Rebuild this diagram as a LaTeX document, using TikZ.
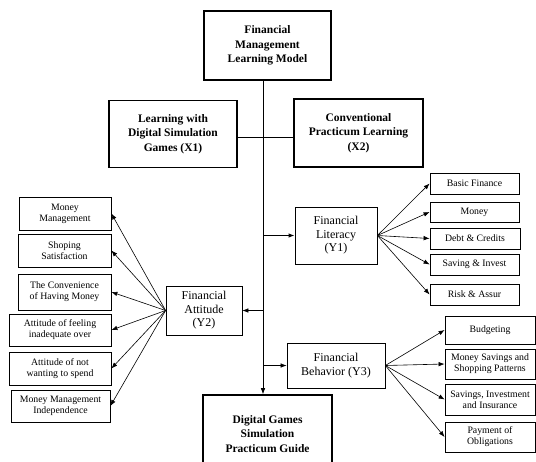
\documentclass[tikz,border=0pt]{standalone}
\usepackage{fontspec}
\setmainfont{Liberation Serif}
\usetikzlibrary{arrows.meta}

\begin{document}
\begin{tikzpicture}[x=1pt, y=-1pt,
    bigbox/.style={draw, line width=1.6pt, align=center, inner sep=0pt,
        font=\fontsize{11.5}{14.5}\selectfont\bfseries},
    midbox/.style={draw, line width=0.8pt, align=center, inner sep=0pt,
        font=\fontsize{12}{13.5}\selectfont},
    smallbox/.style={draw, line width=0.8pt, align=center, inner sep=0pt,
        font=\fontsize{9.8}{11}\selectfont},
    fan/.style={-{Latex[length=6pt,width=4.5pt]}, line width=0.6pt}]
    \useasboundingbox (0,0) rectangle (536,461);
    \clip (0,0) rectangle (536,461);

    % Main boxes
    \node[bigbox, minimum width=127pt, minimum height=69pt] (model) at (267.5,45.5) {Financial\\Management\\Learning Model};
    \node[bigbox, minimum width=128pt, minimum height=67pt] (x1) at (173,134) {Learning with\\Digital Simulation\\Games (X1)};
    \node[bigbox, minimum width=129pt, minimum height=68pt] (x2) at (358.5,133) {Conventional\\Practicum Learning\\(X2)};
    \node[bigbox, minimum width=129pt, minimum height=78pt] (guide) at (267.5,434) {Digital Games\\Simulation\\Practicum Guide};

    % Variables
    \node[midbox, minimum width=82pt, minimum height=57pt] (lit) at (336,235.5) {Financial\\Literacy\\(Y1)};
    \node[midbox, minimum width=76pt, minimum height=49pt] (att) at (204,310.5) {Financial\\Attitude\\(Y2)};
    \node[midbox, minimum width=98pt, minimum height=45pt] (beh) at (336,365.5) {Financial\\Behavior (Y3)};

    % Trunk
    \coordinate (trunk) at ([xshift=-4.5pt]model.south);
    \draw[line width=0.6pt] ([yshift=-3pt]x1.east) -- ([yshift=-3pt]x1.east -| x2.west);
    \draw[fan] (trunk) -- (trunk |- guide.north);
    \draw[-{Latex[length=6pt,width=4.5pt]}, line width=1.2pt] (trunk |- lit.west) -- (lit.west);
    \draw[fan] (trunk |- att.east) -- (att.east);
    \draw[fan] (trunk |- beh.west) -- (beh.west);

    % Literacy indicators
    \node[smallbox, minimum width=89pt, minimum height=21pt] (basic) at (474.5,183.5) {Basic Finance};
    \node[smallbox, minimum width=89pt, minimum height=20pt] (money) at (474.5,212) {Money};
    \node[smallbox, minimum width=90pt, minimum height=21pt] (debt) at (475,238.5) {Debt \& Credits};
    \node[smallbox, minimum width=89pt, minimum height=21pt] (save) at (474.5,264.5) {Saving \& Invest};
    \node[smallbox, minimum width=89pt, minimum height=21pt] (risk) at (474.5,294.5) {Risk \& Assur};
    \foreach \n in {basic,money,debt,save,risk}
        \draw[fan] (lit.east) -- (\n.west);

    % Attitude indicators
    \node[smallbox, minimum width=92pt, minimum height=33pt] (mgmt) at (65,213.5) {Money\\Management};
    \node[smallbox, minimum width=93pt, minimum height=33pt] (shop) at (64.5,250.5) {Shoping\\Satisfaction};
    \node[smallbox, minimum width=93pt, minimum height=36pt] (conv) at (64.5,292) {The Convenience\\of Having Money};
    \node[smallbox, minimum width=102pt, minimum height=32pt] (feel) at (60,330) {Attitude of feeling\\inadequate over};
    \node[smallbox, minimum width=102pt, minimum height=33pt] (spend) at (60,368.5) {Attitude of not\\wanting to spend};
    \node[smallbox, minimum width=99pt, minimum height=32pt] (indep) at (60.5,406) {Money Management\\Independence};
    \foreach \n in {mgmt,shop,conv,feel,spend,indep}
        \draw[fan] (att.west) -- (\n.east);

    % Behavior indicators
    \node[smallbox, minimum width=90pt, minimum height=28pt] (budget) at (490,330) {Budgeting};
    \node[smallbox, minimum width=90pt, minimum height=30pt] (pattern) at (490,364) {Money Savings and\\Shopping Patterns};
    \node[smallbox, minimum width=90pt, minimum height=31pt] (insure) at (490,399.5) {Savings, Investment\\and Insurance};
    \node[smallbox, minimum width=90pt, minimum height=30pt] (oblig) at (490,437) {Payment of\\Obligations};
    \foreach \n in {budget,pattern,insure,oblig}
        \draw[fan] (beh.east) -- (\n.west);
\end{tikzpicture}
\end{document}
